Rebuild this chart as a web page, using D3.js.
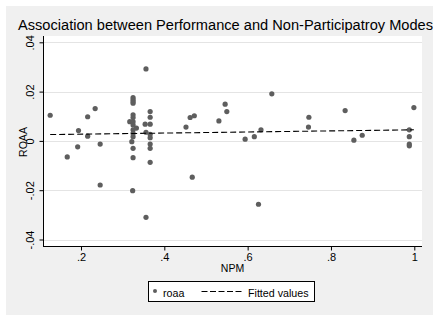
<!DOCTYPE html>
<html>
<head>
<meta charset="utf-8">
<script src="https://cdn.jsdelivr.net/npm/d3@7"></script>
<style>
  html, body { margin: 0; padding: 0; background: #ffffff; }
  svg { display: block; font-family: Arial, "Liberation Sans", sans-serif; }
</style>
</head>
<body>
<svg id="chart" width="446" height="322"></svg>
<script>
// ---- data ----
const npm = [
  0.126, 0.167, 0.192, 0.194, 0.216, 0.216, 0.234, 0.246, 0.246,
  0.325, 0.325, 0.325, 0.325, 0.325, 0.325, 0.317, 0.325, 0.325, 0.333,
  0.325, 0.325, 0.325, 0.322, 0.325, 0.325, 0.324,
  0.356, 0.354, 0.356, 0.356,
  0.366, 0.366, 0.366, 0.366, 0.366, 0.366, 0.366, 0.366,
  0.452, 0.462, 0.472, 0.467, 0.531, 0.546, 0.550, 0.594, 0.616, 0.632,
  0.626, 0.658, 0.747, 0.746, 0.834, 0.855, 0.875, 0.999, 0.988, 0.988,
  0.988, 0.988
];
const roaa = [
  0.0104, -0.0065, -0.0024, 0.0042, 0.0019, 0.0098, 0.0131, -0.0013, -0.0179,
  0.0176, 0.0168, 0.0160, 0.0153, 0.0106, 0.0095, 0.0078, 0.0078, 0.0065, 0.0052,
  0.0045, 0.0031, 0.0017, -0.0003, -0.0030, -0.0068, -0.0202,
  0.0292, 0.0068, 0.0035, -0.0310,
  0.0119, 0.0096, 0.0068, 0.0027, 0.0013, -0.0013, -0.0030, -0.0087,
  0.0056, 0.0095, 0.0102, -0.0147, 0.0081, 0.0149, 0.0119, 0.0007, 0.0017, 0.0045,
  -0.0257, 0.0191, 0.0096, 0.0056, 0.0123, 0.0003, 0.0023, 0.0135, 0.0045, 0.0017,
  -0.0013, -0.0020
];
// fitted values line (endpoints)
const fitX = [0.126, 0.999];
const fitY = [0.00257, 0.0045];

const xTicks = [0.2, 0.4, 0.6, 0.8, 1.0];
const xTickLabels = [".2", ".4", ".6", ".8", "1"];
const yTicks = [-0.04, -0.02, 0, 0.02, 0.04];
const yTickLabels = ["-.04", "-.02", "0", ".02", ".04"];

const titleText = "Association between Performance and Non-Participatroy Modes";
const xTitle = "NPM";
const yTitle = "ROAA";
const legendLabels = ["roaa", "Fitted values"];

// ---- layout ----
const svg = d3.select("#chart");
const plot = { left: 43, right: 422, top: 36, bottom: 246 };
const markerColor = "#5e5e5e";

const x = d3.scaleLinear().domain([0.2, 1.0]).range([81, 414.3]);
const y = d3.scaleLinear().domain([-0.04, 0.04]).range([239.5, 42.3]);

// graph background
svg.append("rect").attr("x", 6).attr("y", 6).attr("width", 427).attr("height", 309)
  .attr("fill", "#f0f0f0");
// plot region
svg.append("rect").attr("x", plot.left).attr("y", plot.top)
  .attr("width", plot.right - plot.left).attr("height", plot.bottom - plot.top)
  .attr("fill", "#ffffff");

// gridlines
svg.append("g").selectAll("line").data(yTicks).join("line")
  .attr("x1", plot.left).attr("x2", plot.right)
  .attr("y1", d => Math.round(y(d)) + 0.5).attr("y2", d => Math.round(y(d)) + 0.5)
  .attr("stroke", "#e4e4e4").attr("stroke-width", 1);

// title
const title = svg.append("text").attr("x", 18).attr("y", 30)
  .attr("font-size", 14).attr("fill", "#000").text(titleText);
title.attr("textLength", 415).attr("lengthAdjust", "spacingAndGlyphs");

// x axis
const xAxis = d3.axisBottom(x).tickValues(xTicks)
  .tickFormat((d, i) => xTickLabels[i]).tickSizeOuter(0).tickSize(4).tickPadding(3);
const gx = svg.append("g").attr("transform", `translate(0,${plot.bottom + 0.5})`).call(xAxis);
gx.select(".domain").attr("d", `M${plot.left},0H${plot.right}`).attr("stroke", "#000");
gx.selectAll(".tick line").attr("stroke", "#000");
gx.selectAll(".tick text").attr("font-size", 11).attr("fill", "#000")
  .attr("font-family", "Arial, 'Liberation Sans', sans-serif");

// y axis
const yAxis = d3.axisLeft(y).tickValues(yTicks)
  .tickFormat((d, i) => yTickLabels[i]).tickSizeOuter(0).tickSize(4).tickPadding(3);
const gy = svg.append("g").attr("transform", `translate(${plot.left + 0.5},0)`).call(yAxis);
gy.select(".domain").attr("d", `M0,${plot.top}V${plot.bottom}`).attr("stroke", "#000");
gy.selectAll(".tick line").attr("stroke", "#000");
gy.selectAll(".tick text")
  .attr("font-size", 11).attr("fill", "#000")
  .attr("font-family", "Arial, 'Liberation Sans', sans-serif")
  .attr("x", null).attr("dy", null)
  .attr("text-anchor", "middle")
  .attr("transform", "translate(-9.5,0) rotate(-90)");

// axis titles
svg.append("text").attr("x", (plot.left + plot.right) / 2).attr("y", 271.5)
  .attr("text-anchor", "middle").attr("font-size", 10.5).attr("fill", "#000").text(xTitle);
svg.append("text").attr("transform", `translate(26.5,142) rotate(-90)`)
  .attr("text-anchor", "middle").attr("font-size", 10.5).attr("fill", "#000").text(yTitle);

// points
svg.append("g").selectAll("circle").data(npm.map((v, i) => [v, roaa[i]])).join("circle")
  .attr("cx", d => x(d[0])).attr("cy", d => y(d[1])).attr("r", 2.6)
  .attr("fill", markerColor);

// fitted line
const line = d3.line().x(d => x(d[0])).y(d => y(d[1]));
svg.append("path").datum(fitX.map((v, i) => [v, fitY[i]]))
  .attr("d", line).attr("fill", "none").attr("stroke", "#000")
  .attr("stroke-width", 1.1).attr("stroke-dasharray", "6,3");

// legend
const lg = svg.append("g");
lg.append("rect").attr("x", 148.5).attr("y", 281.5).attr("width", 166).attr("height", 20)
  .attr("fill", "#fff").attr("stroke", "#000").attr("stroke-width", 1);
lg.append("circle").attr("cx", 155).attr("cy", 291).attr("r", 2).attr("fill", markerColor);
lg.append("text").attr("x", 163).attr("y", 296.5).attr("font-size", 10.7).attr("fill", "#000")
  .text(legendLabels[0]);
lg.append("line").attr("x1", 201.5).attr("x2", 242).attr("y1", 291.5).attr("y2", 291.5)
  .attr("stroke", "#000").attr("stroke-width", 1).attr("stroke-dasharray", "6,2.5");
lg.append("text").attr("x", 248).attr("y", 296.5).attr("font-size", 10.7).attr("fill", "#000")
  .text(legendLabels[1]);
</script>
</body>
</html>
